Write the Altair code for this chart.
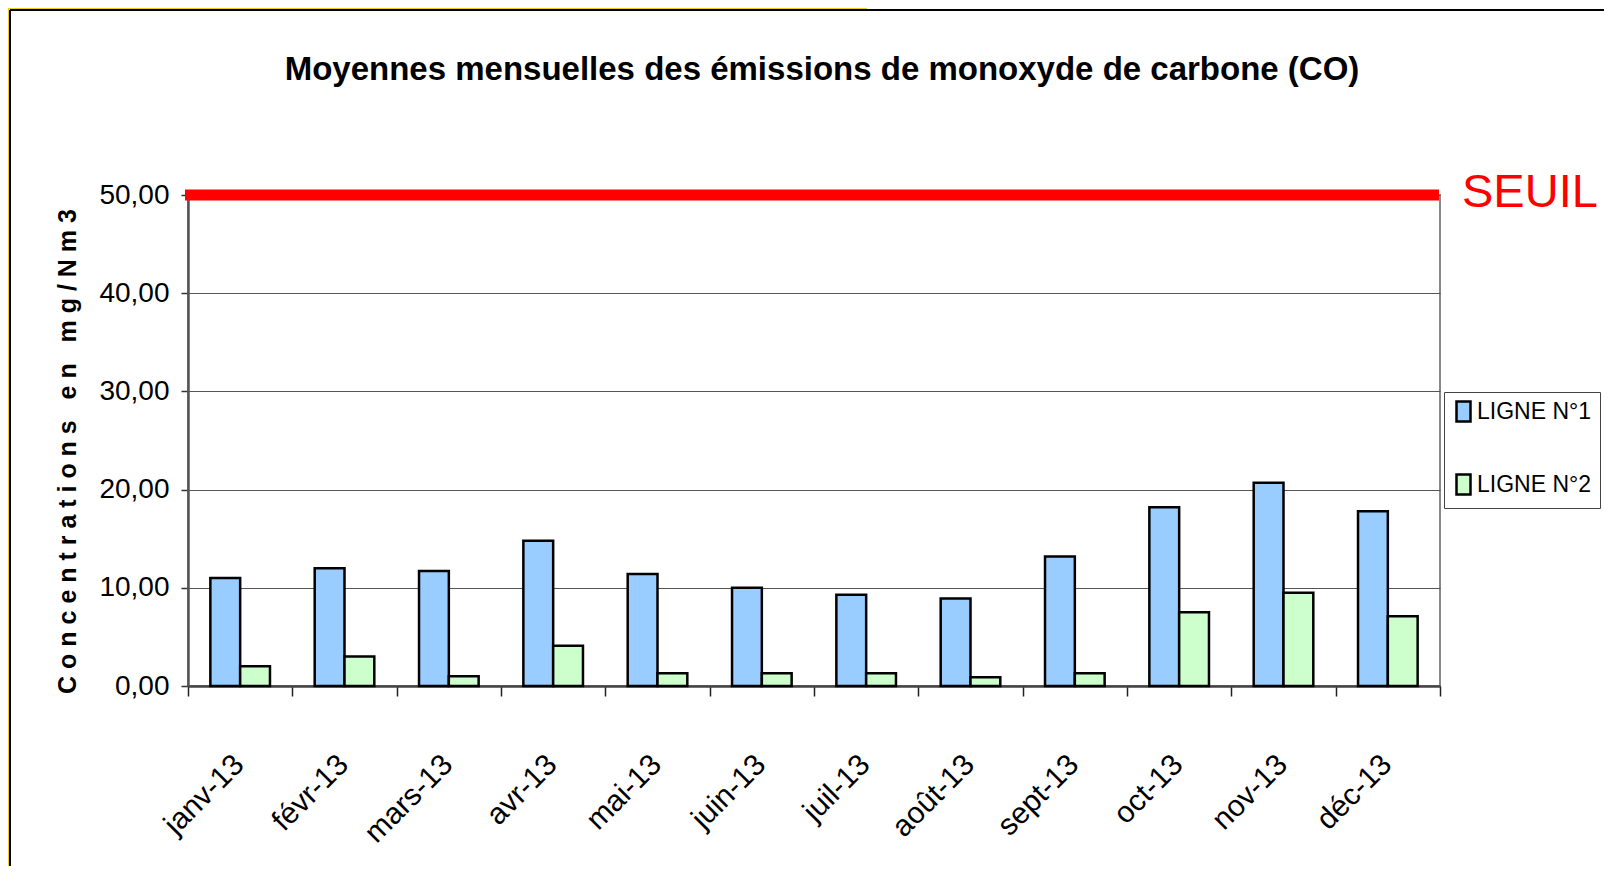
import altair as alt
import pandas as pd

TITLE = "Moyennes mensuelles des émissions de monoxyde de carbone (CO)"
Y_TITLE = "C o n c e n t r a t i o n s \u00a0 e n \u00a0 m g / N m 3"
months = ["janv-13", "févr-13", "mars-13", "avr-13", "mai-13", "juin-13",
          "juil-13", "août-13", "sept-13", "oct-13", "nov-13", "déc-13"]
series = ["LIGNE N°1", "LIGNE N°2"]
ligne1 = [11.0, 12.0, 11.7, 14.8, 11.4, 10.0, 9.3, 8.9, 13.2, 18.2, 20.7, 17.8]
ligne2 = [2.0, 3.0, 1.0, 4.1, 1.3, 1.3, 1.3, 0.9, 1.3, 7.5, 9.5, 7.1]
colors = ["#99CCFF", "#CCFFCC"]
seuil_value = [50]
seuil_label = ["SEUIL"]
y_ticks = [0, 10, 20, 30, 40, 50]

FONT = "Liberation Sans, Arial, sans-serif"
W, H = 1252, 491

rows = []
for m, a, b in zip(months, ligne1, ligne2):
    rows.append({"month": m, "series": series[0], "value": a})
    rows.append({"month": m, "series": series[1], "value": b})
df = pd.DataFrame(rows)
thr = pd.DataFrame({"seuil": seuil_value, "label": seuil_label})
tdf = pd.DataFrame({"t": [TITLE]})

y_scale = alt.Scale(domain=[0, 50], nice=False, zero=True)

bars = alt.Chart(df).mark_bar(stroke="black", strokeWidth=2.5).encode(
    x=alt.X("month:N", sort=months,
            scale=alt.Scale(paddingInner=0, paddingOuter=0),
            axis=alt.Axis(title=None, labelAngle=315, labelAlign="right",
                          labelBaseline="top", labelPadding=53, labelOffset=-12,
                          labelFont=FONT, labelFontSize=30, labelColor="black",
                          tickBand="extent", tickSize=10, tickColor="#222",
                          tickWidth=1.5, domainColor="#444", domainWidth=2.5,
                          grid=False)),
    xOffset=alt.XOffset("series:N", sort=series,
                        scale=alt.Scale(paddingInner=0, paddingOuter=0.75)),
    y=alt.Y("value:Q", scale=y_scale,
            axis=alt.Axis(values=y_ticks,
                          labelExpr="replace(format(datum.value, '.2f'), '.', ',')",
                          labelFont=FONT, labelFontSize=28, labelColor="black",
                          labelPadding=12, tickSize=7, tickColor="#333",
                          tickWidth=1.5, domainColor="#555", domainWidth=2.5,
                          grid=True, gridColor="#555", gridWidth=1.2,
                          title=Y_TITLE, titleFont=FONT, titleFontWeight="bold",
                          titleFontSize=25, titleColor="black", titleAngle=270,
                          titleX=-121, titleY=256, titleAlign="center",
                          titleBaseline="middle")),
    color=alt.Color("series:N", sort=series,
                    scale=alt.Scale(domain=series, range=colors),
                    legend=alt.Legend(title=None, orient="none", legendX=1256,
                                      legendY=197, padding=8,
                                      strokeColor="#444", fillColor="white",
                                      symbolType="M-0.7,-1H0.7V1H-0.7Z",
                                      symbolSize=400, symbolStrokeColor="black",
                                      symbolStrokeWidth=2.5, symbolOpacity=1,
                                      labelFont=FONT, labelFontSize=23,
                                      labelColor="black", labelOffset=2,
                                      rowPadding=42)),
)

rule = alt.Chart(thr).mark_rule(color="#FF0000", strokeWidth=11).encode(
    y=alt.Y("seuil:Q", scale=y_scale, title=Y_TITLE),
    x=alt.value(-3), x2=alt.value(W - 1),
)

seuil_text = alt.Chart(thr).mark_text(
    align="left", baseline="alphabetic", font=FONT,
    fontSize=47, color="#FF0000", dy=12,
).encode(
    y=alt.Y("seuil:Q", scale=y_scale, title=Y_TITLE),
    x=alt.value(W + 22),
    text="label:N",
)

title_text = alt.Chart(tdf).mark_text(
    align="center", baseline="alphabetic", font=FONT, fontWeight="bold",
    fontSize=33, color="black",
).encode(x=alt.value(W / 2 + 8), y=alt.value(-115), text="t:N")

frame = alt.Chart(tdf)
yellow_top = frame.mark_rect(color="#EECC22").encode(
    x=alt.value(-180), x2=alt.value(679), y=alt.value(-187), y2=alt.value(-185.5))
yellow_left = frame.mark_rect(color="#EECC22").encode(
    x=alt.value(-180), x2=alt.value(-178.5), y=alt.value(-187), y2=alt.value(671))
black_top = frame.mark_rule(color="black", strokeWidth=2).encode(
    x=alt.value(-178), x2=alt.value(1420), y=alt.value(-185))
black_left = frame.mark_rule(color="black", strokeWidth=2).encode(
    x=alt.value(-178), y=alt.value(-185), y2=alt.value(680))

chart = alt.layer(
    bars, rule, seuil_text, title_text,
    yellow_top, yellow_left, black_top, black_left,
).properties(
    width=W, height=H,
    padding={"left": 180, "top": 187, "right": 164, "bottom": 180},
    autosize=alt.AutoSizeParams(type="none"),
    background="white",
).configure_view(stroke="#888", strokeWidth=2)

chart.save("out.html", embed_options={"renderer": "svg", "actions": False})
